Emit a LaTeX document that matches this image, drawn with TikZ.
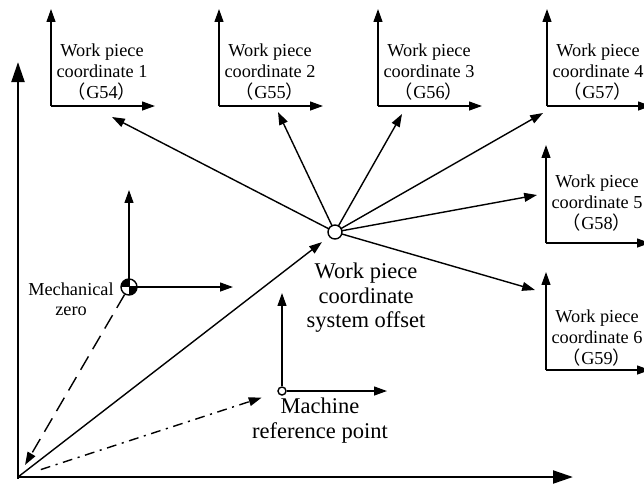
\documentclass[tikz,border=0pt]{standalone}
\usepackage{fontspec}
\setmainfont{Liberation Serif}
\newfontfamily\cjk{Noto Sans CJK SC}
\usetikzlibrary{arrows.meta}

\newcommand{\wpc}[1]{{\cjk （}G#1{\cjk ）}}

\tikzset{
  >={Triangle[length=0.32cm,width=0.22cm]},
  mainaxis/.style={line width=1.9pt, -{Triangle[length=0.5cm,width=0.32cm]}},
  thin/.style={line width=1pt},
  frametext/.style={font=\fontsize{13}{14.9}\selectfont, align=center, inner sep=0pt, anchor=north},
  bigtext/.style={font=\fontsize{16}{17.2}\selectfont, align=center, inner sep=0pt, anchor=north},
  offsetmark/.style={circle, draw, thin, fill=white, minimum size=0.35cm, inner sep=0pt},
  zeromark/.style={circle, draw, thin, minimum size=0.4cm, inner sep=0pt},
  refmark/.style={circle, draw, thin, fill=white, minimum size=0.2cm, inner sep=0pt},
  dashline/.style={thin, dash pattern=on 11pt off 6pt},
  dotdashline/.style={thin, dash pattern=on 7pt off 4pt on 1.5pt off 4pt}
}

\begin{document}
\begin{tikzpicture}[x=0.025cm, y=-0.025cm]
  \clip (0,0) rectangle (644,483);

  % main axes
  \coordinate (O) at (18,477);
  \coordinate (ytip) at (18,62);
  \coordinate (xtip) at (573,477);
  \draw [mainaxis] (18,478.5) -- (ytip);
  \draw [mainaxis] (O) -- (xtip);

  % work piece coordinates G54 ... G59
  \foreach \cx/\cy/\up/\top/\num/\g/\tx/\ty in {
      51/106/9/44/1/54/112/117,
      219/106/9/44/2/55/278/112,
      378/106/9/44/3/56/402/114,
      547/106/9/44/4/57/543/113,
      546/243/145/175/5/58/537/195,
      546/370/272/310/6/59/535/290}{
    \coordinate (c\num) at (\cx,\cy);
    \coordinate (u\num) at (\cx,\up);
    \coordinate (r\num) at (\cx+104,\cy);
    \coordinate (t\num) at (\tx,\ty);
    \draw [thin, ->] (c\num) -- (u\num);
    \draw [thin, ->] (c\num) -- (r\num);
    \node [frametext] (w\num) at (\cx+51,\top) {Work piece\\coordinate \num\\\wpc{\g}};
  }

  % work piece coordinate system offset
  \node [offsetmark] (wcs) at (335,232) {};
  \foreach \num in {1,...,6}
    \draw [thin, ->, shorten <=-1pt] (wcs) -- (t\num);
  \node [bigtext] (wcstext) at (366,263) {Work piece\\coordinate\\system offset};

  % mechanical zero
  \coordinate (mzc) at (129,287);
  \coordinate (mzy) at (129,190);
  \coordinate (mzx) at (233,287);
  \draw [thin, ->] (mzc) -- (mzy);
  \draw [thin, ->] (mzc) -- (mzx);
  \begin{scope}
    \clip (mzc) circle [radius=8];
    \fill (mzc) rectangle (120,278);
    \fill (mzc) rectangle (138,296);
  \end{scope}
  \node [zeromark] (mz) at (mzc) {};
  \node [frametext, font=\fontsize{13}{14.2}\selectfont] (mztext) at (71,283) {Mechanical\\zero};

  % machine reference point
  \coordinate (mry) at (282,293);
  \coordinate (mrx) at (387,391);
  \node [refmark] (mr) at (282,391) {};
  \draw [thin, ->] (mr.north) -- (mry);
  \draw [thin, ->] (mr.east) -- (mrx);
  \node [bigtext, font=\fontsize{16}{17.7}\selectfont] (mrtext) at (320,398) {Machine\\reference point};

  % links to origin
  \draw [thin, ->, shorten >=0.22cm] (O) -- (wcs);
  \draw [dotdashline, ->, shorten <=0.6cm, shorten >=0.42cm] (O) -- (mr);
  \draw [dashline, ->, shorten >=0.35cm] (mz) -- (O);
\end{tikzpicture}
\end{document}
